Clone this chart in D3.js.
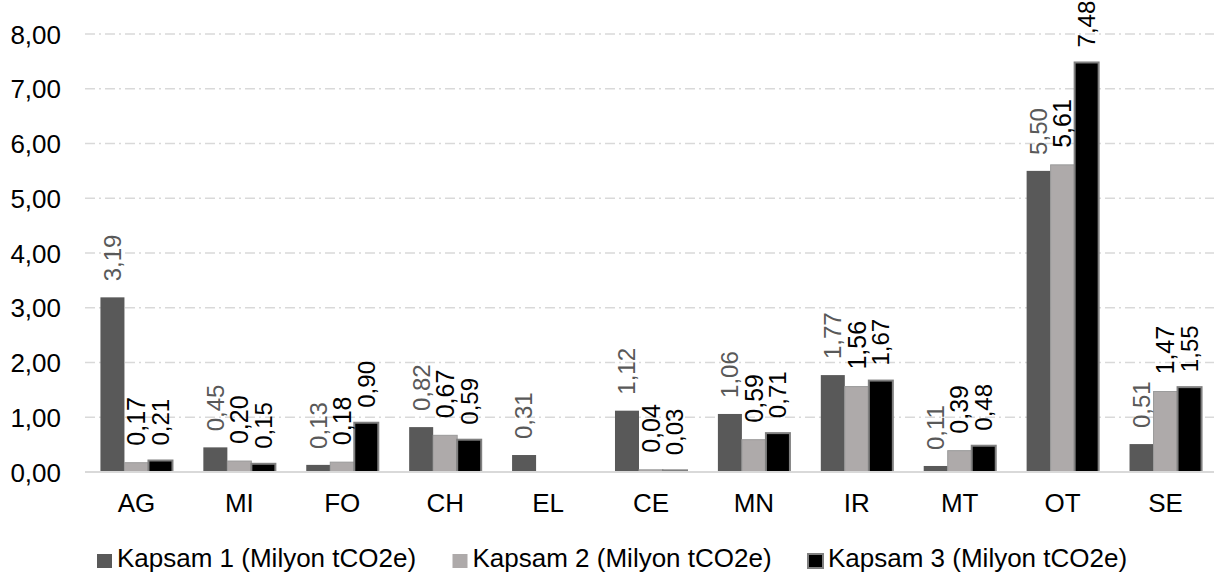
<!DOCTYPE html>
<html>
<head>
<meta charset="utf-8">
<script src="https://cdn.jsdelivr.net/npm/d3@7"></script>
<style>
  html, body { margin: 0; padding: 0; background: #fff; }
  svg { display: block; font-family: "Liberation Sans", Arial, sans-serif; }
</style>
</head>
<body>
<svg id="chart" width="1214" height="580"></svg>
<script>
const categories = ["AG", "MI", "FO", "CH", "EL", "CE", "MN", "IR", "MT", "OT", "SE"];
const kapsam1 = [3.19, 0.45, 0.13, 0.82, 0.31, 1.12, 1.06, 1.77, 0.11, 5.50, 0.51];
const kapsam2 = [0.17, 0.20, 0.18, 0.67, 0, 0.04, 0.59, 1.56, 0.39, 5.61, 1.47];
const kapsam3 = [0.21, 0.15, 0.90, 0.59, 0, 0.03, 0.71, 1.67, 0.48, 7.48, 1.55];
const seriesNames = ["Kapsam 1 (Milyon tCO2e)", "Kapsam 2 (Milyon tCO2e)", "Kapsam 3 (Milyon tCO2e)"];
const yTicks = [0, 1, 2, 3, 4, 5, 6, 7, 8];

const seriesValues = [kapsam1, kapsam2, kapsam3];
const fills = ["#595959", "#AEAAAA", "#000000"];
const strokes = ["none", "#9a9a9a", "#808080"];
const labelColors = ["#595959", "#000000", "#000000"];
const labelSizes = [24, 25, 24];
const labelOffsets = [16, 17, 15];

const svg = d3.select("#chart");
const plotLeft = 85, plotRight = 1217, plotTop = 34, plotBottom = 472;

const x = d3.scaleBand().domain(categories).range([plotLeft, plotRight]).paddingInner(0.3).paddingOuter(0.15);
const xs = d3.scaleBand().domain([0, 1, 2]).range([0, x.bandwidth()]);
const y = d3.scaleLinear().domain([0, 8]).range([plotBottom, plotTop]);
const fmt = v => d3.format(".2f")(v).replace(".", ",");

// gridlines
svg.append("g").selectAll("line").data(yTicks.filter(t => t > 0)).join("line")
  .attr("x1", plotLeft).attr("x2", 1214)
  .attr("y1", d => y(d)).attr("y2", d => y(d))
  .attr("stroke", "#d9d9d9").attr("stroke-width", 1.5)
  .attr("stroke-dasharray", "10,4,2,4");

// y axis labels
const yAxis = d3.axisLeft(y).tickValues(yTicks).tickFormat(fmt).tickSize(0).tickPadding(0);
const ya = svg.append("g").attr("transform", `translate(61,0)`).call(yAxis);
ya.select(".domain").remove();
ya.selectAll("text").attr("font-size", 26).attr("fill", "#000")
  .attr("font-family", "'Liberation Sans', Arial, sans-serif").attr("dy", "0.35em");

// bars
const groups = svg.append("g").selectAll("g").data(categories).join("g")
  .attr("transform", d => `translate(${x(d)},0)`);

seriesValues.forEach((vals, si) => {
  groups.append("rect")
    .attr("x", xs(si))
    .attr("width", xs.bandwidth())
    .attr("y", (d, i) => y(vals[i]))
    .attr("height", (d, i) => y(0) - y(vals[i]))
    .attr("fill", fills[si])
    .attr("stroke", (d, i) => vals[i] > 0 ? strokes[si] : "none")
    .attr("stroke-width", si === 2 ? 2 : 1);
});

// baseline
svg.append("line").attr("x1", plotLeft).attr("x2", 1214)
  .attr("y1", y(0)).attr("y2", y(0))
  .attr("stroke", "#d9d9d9").attr("stroke-width", 2);

// data labels
seriesValues.forEach((vals, si) => {
  groups.filter((d, i) => vals[i] > 0).append("text")
    .attr("transform", function(d) {
      const i = categories.indexOf(d);
      const cx = xs(si) + xs.bandwidth() / 2;
      const cy = y(vals[i]) - labelOffsets[si];
      return `translate(${cx},${cy}) rotate(-90)`;
    })
    .attr("text-anchor", "start")
    .attr("dy", "0.35em")
    .attr("font-size", labelSizes[si])
    .attr("fill", labelColors[si])
    .text(d => fmt(vals[categories.indexOf(d)]));
});

// x axis labels
const xAxis = d3.axisBottom(x).tickSize(0).tickPadding(0);
const xa = svg.append("g").attr("transform", `translate(0,${plotBottom})`).call(xAxis);
xa.select(".domain").remove();
xa.selectAll("text").attr("font-size", 26).attr("fill", "#000")
  .attr("font-family", "'Liberation Sans', Arial, sans-serif")
  .attr("y", 40).attr("dy", 0);

// legend
const legend = svg.append("g");
const legX = [97, 452.5, 808];
seriesNames.forEach((name, si) => {
  const g = legend.append("g").attr("transform", `translate(${legX[si]},0)`);
  g.append("rect").attr("x", 0).attr("y", 554).attr("width", 15).attr("height", 14)
    .attr("fill", fills[si])
    .attr("stroke", si === 2 ? "#808080" : "none").attr("stroke-width", 2);
  g.append("text").attr("x", 20).attr("y", 567).attr("font-size", 26).attr("fill", "#000").text(name);
});
</script>
</body>
</html>
